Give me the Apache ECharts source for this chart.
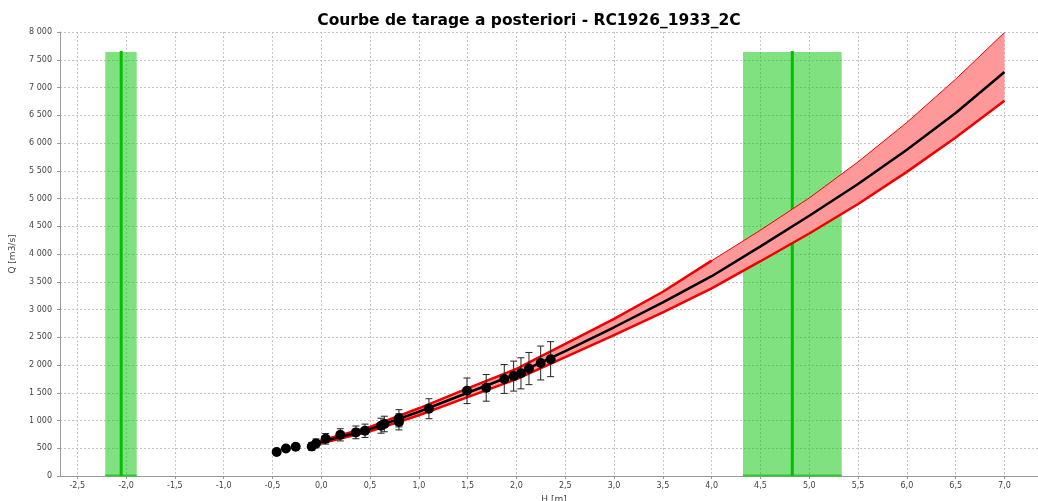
<!DOCTYPE html>
<html><head><meta charset="utf-8">
<script src="https://cdn.jsdelivr.net/npm/echarts@6/dist/echarts.min.js"></script>
<style>html,body{margin:0;padding:0;background:#fff}#c{width:1038px;height:501px}</style>
</head><body><div id="c"></div>
<script>
const chartTitle = 'Courbe de tarage a posteriori - RC1926_1933_2C';
const xName = 'H [m]';
const yName = 'Q [m3/s]';
const xTicks = [-2.5,-2.0,-1.5,-1.0,-0.5,0.0,0.5,1.0,1.5,2.0,2.5,3.0,3.5,4.0,4.5,5.0,5.5,6.0,6.5,7.0];

// rating curve
const curveH    = [-0.05, 0.0, 0.5, 1.0, 1.5, 2.0, 2.5, 3.0, 3.5, 4.0, 4.5, 5.0, 5.5, 6.0, 6.5, 7.0];
const curveMid  = [590, 615, 845, 1158, 1500, 1838, 2250, 2680, 3130, 3600, 4137, 4690, 5260, 5880, 6540, 7280];
const curveHigh = [610, 640, 885, 1220, 1580, 1930, 2380, 2830, 3320, 3880, 4430, 5010, 5660, 6370, 7150, 7990];
const curveLow  = [570, 590, 805, 1095, 1420, 1745, 2140, 2540, 2950, 3380, 3870, 4370, 4900, 5480, 6100, 6760];
// the thick upper red line stops at this stage
const upperLineEndH = 4.0;

// gaugings
const obsH   = [-0.457,-0.362,-0.262,-0.098,-0.054,0.045,0.195,0.355,0.448,0.612,0.646,0.796,0.796,1.103,1.493,1.69,1.875,1.971,2.046,2.128,2.248,2.35];
const obsQ   = [432, 497, 528, 533, 587, 670, 742, 786, 815, 906, 937, 1040, 975, 1212, 1535, 1588, 1748, 1800, 1850, 1936, 2036, 2105];
const obsErr = [0, 0, 0, 70, 80, 95, 110, 115, 120, 135, 140, 155, 145, 180, 230, 240, 260, 270, 280, 290, 305, 315];

// green zones
const zoneCenter = [-2.05, 4.826];
const zoneFrom   = [-2.213, 4.321];
const zoneTo     = [-1.891, 5.332];
const zoneTop    = [7640, 7640];

const fmtY = v => String(Math.round(v)).replace(/\B(?=(\d{3})+(?!\d))/g, ' ');
const fmtX = v => (Math.round(v * 10) / 10).toFixed(1).replace('.', ',');
const labelFont = { fontFamily: 'DejaVu Sans', fontSize: 8, color: '#444' };
const gridLine = { show: true, lineStyle: { color: '#c4c4c4', type: [2, 2], width: 1 } };

const upperThick = [];
curveH.forEach((h, i) => { if (h <= upperLineEndH) upperThick.push([h, curveHigh[i]]); });

const chart = echarts.init(document.getElementById('c'), null, { renderer: 'canvas' });
chart.setOption({
  animation: false,
  backgroundColor: '#fff',
  title: {
    text: chartTitle, left: 524, top: 8, textAlign: 'center',
    textStyle: { fontFamily: 'DejaVu Sans', fontSize: 15.5, fontWeight: 'bold', color: '#000' }
  },
  grid: { left: 60, top: 32, width: 988, bottom: 25, containLabel: false, outerBoundsMode: 'none' },
  xAxis: {
    type: 'value', min: -2.677, max: 7.446,
    name: xName, nameLocation: 'middle', nameGap: 16,
    nameTextStyle: { fontFamily: 'DejaVu Sans', fontSize: 9, color: '#444' },
    axisLine: { show: true, onZero: false, lineStyle: { color: '#999', width: 1 } },
    axisTick: { show: true, length: 3, customValues: xTicks, lineStyle: { color: '#999' } },
    axisLabel: Object.assign({ customValues: xTicks, formatter: fmtX, margin: 6 }, labelFont),
    splitLine: gridLine
  },
  yAxis: {
    type: 'value', min: 0, max: 8000, interval: 500,
    name: yName, nameLocation: 'middle', nameGap: 43, nameRotate: 90,
    nameTextStyle: { fontFamily: 'DejaVu Sans', fontSize: 9, color: '#444' },
    axisLine: { show: true, onZero: false, lineStyle: { color: '#999', width: 1 } },
    axisTick: { show: true, length: 3, lineStyle: { color: '#999' } },
    axisLabel: Object.assign({ formatter: fmtY, margin: 8 }, labelFont),
    splitLine: gridLine
  },
  series: [
    {
      type: 'custom', name: 'zones', z: 1, silent: true,
      encode: { x: [0, 1, 2], y: 3 },
      data: zoneCenter.map((c, i) => [c, zoneFrom[i], zoneTo[i], zoneTop[i]]),
      renderItem: (params, api) => {
        const c = api.value(0), a = api.value(1), b = api.value(2), t = api.value(3);
        const p0 = api.coord([a, t]), p1 = api.coord([b, 0]);
        const lc0 = api.coord([c, 0]), lc1 = api.coord([c, t]);
        return { type: 'group', children: [
          { type: 'rect', shape: { x: p0[0], y: p0[1], width: p1[0] - p0[0], height: p1[1] - p0[1] },
            style: { fill: 'rgba(0,195,0,0.5)' } },
          { type: 'line', shape: { x1: p0[0], y1: p1[1] - 0.5, x2: p1[0], y2: p1[1] - 0.5 },
            style: { stroke: '#33c433', lineWidth: 2 } },
          { type: 'line', shape: { x1: lc0[0], y1: lc0[1], x2: lc1[0], y2: lc1[1] - 1 },
            style: { stroke: '#00c000', lineWidth: 3 } }
        ] };
      }
    },
    {
      type: 'custom', name: 'band', z: 2, silent: true,
      encode: { x: 0, y: [1, 2] },
      data: curveH.map((h, i) => [h, curveLow[i], curveHigh[i]]),
      renderItem: (params, api) => {
        if (params.dataIndex !== 0) return null;
        const up = curveH.map((h, i) => api.coord([h, curveHigh[i]]));
        const dn = curveH.map((h, i) => api.coord([h, curveLow[i]])).reverse();
        return { type: 'polygon', shape: { points: up.concat(dn) }, style: { fill: '#ff9999' } };
      }
    },
    {
      type: 'line', name: 'highEdge', z: 3, symbol: 'none',
      data: curveH.map((h, i) => [h, curveHigh[i]]),
      lineStyle: { color: '#ee0000', width: 1 }
    },
    {
      type: 'line', name: 'high', z: 3, symbol: 'none',
      data: upperThick,
      lineStyle: { color: '#ee0000', width: 2.5 }
    },
    {
      type: 'line', name: 'low', z: 3, symbol: 'none',
      data: curveH.map((h, i) => [h, curveLow[i]]),
      lineStyle: { color: '#ee0000', width: 2.5 }
    },
    {
      type: 'line', name: 'mid', z: 4, symbol: 'none',
      data: curveH.map((h, i) => [h, curveMid[i]]),
      lineStyle: { color: '#000', width: 2.5 }
    },
    {
      type: 'custom', name: 'err', z: 5, silent: true,
      encode: { x: 0, y: [1, 2] },
      data: obsH.map((h, i) => [h, obsQ[i] - obsErr[i], obsQ[i] + obsErr[i]]),
      renderItem: (params, api) => {
        const x = api.value(0), lo = api.value(1), hi = api.value(2);
        if (!(hi > lo)) return null;
        const p1 = api.coord([x, lo]), p2 = api.coord([x, hi]);
        const w = 3.5, st = { stroke: '#222', lineWidth: 1 };
        return { type: 'group', children: [
          { type: 'line', shape: { x1: p1[0], y1: p1[1], x2: p2[0], y2: p2[1] }, style: st },
          { type: 'line', shape: { x1: p1[0] - w, y1: p1[1], x2: p1[0] + w, y2: p1[1] }, style: st },
          { type: 'line', shape: { x1: p2[0] - w, y1: p2[1], x2: p2[0] + w, y2: p2[1] }, style: st }
        ] };
      }
    },
    {
      type: 'scatter', name: 'obs', z: 6, symbol: 'circle', symbolSize: 10,
      data: obsH.map((h, i) => [h, obsQ[i]]),
      itemStyle: { color: '#000', opacity: 1 }
    }
  ]
});
</script>
</body></html>
